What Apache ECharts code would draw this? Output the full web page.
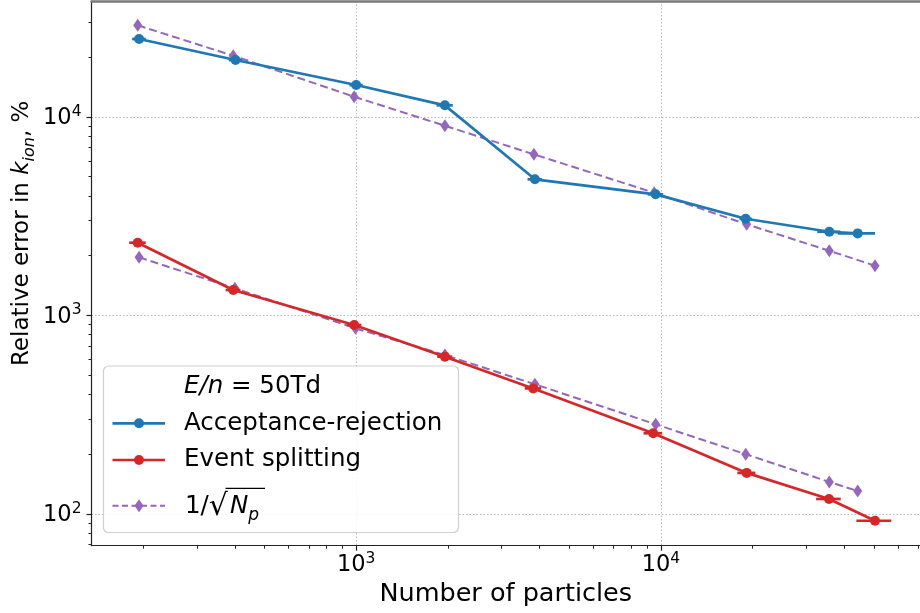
<!DOCTYPE html>
<html><head><meta charset="utf-8">
<script src="https://cdn.jsdelivr.net/npm/echarts@6/dist/echarts.min.js"></script>
<style>html,body{margin:0;padding:0;background:#fff}#c{width:920px;height:613px}</style>
</head><body><div id="c"></div>
<script>
// ---- data ----
const arX    = [194, 402, 1000, 1955, 3860, 9610, 18970, 35680, 44220];
const arY    = [24690, 19350, 14480, 11440, 4850, 4075, 3070, 2640, 2590];
const arXerr = [10, 20, 50, 120, 210, 560, 870, 3100, 6200];

const esX    = [192, 395, 985, 1955, 3810, 9430, 19110, 35600, 50390];
const esY    = [2325, 1343, 895, 620, 429, 255, 161, 119, 92.4];
const esXerr = [12, 22, 55, 110, 236, 660, 1300, 3300, 6600];

const refUpX = [192, 395, 985, 1955, 3830, 9500, 19110, 35680, 50390];
const refUpY = [28940, 20340, 12640, 9030, 6480, 4150, 2877, 2118, 1780];
const refLoX = [194, 400, 995, 1955, 3860, 9610, 18970, 35680, 44220];
const refLoY = [1962, 1369, 861, 632, 450, 283, 200, 145, 130.5];

const xMajorTicks = [1000, 10000];
const yMajorTicks = [100, 1000, 10000];
const xMinorTicks = [200,300,400,500,600,700,800,900,2000,3000,4000,5000,6000,7000,8000,9000,20000,30000,40000,50000,60000,70000];
const yMinorTicks = [70,80,90,200,300,400,500,600,700,800,900,2000,3000,4000,5000,6000,7000,8000,9000,20000,30000];

const seriesNames = ['Acceptance-rejection', 'Event splitting', '1/√N_p'];

// ---- chart ----
const BLUE = '#1f77b4', RED = '#d62728', PURPLE = '#9467bd';
const X_MIN = 135.4, X_MAX = 70800, Y_MIN = 69.2, Y_MAX = 38370;
const FONT = 'DejaVu Sans';
const zip = (a, b) => a.map((v, i) => [v, b[i]]);

function errSeries(xs, ys, errs, color, z) {
  return {
    type: 'custom', xAxisIndex: 0, yAxisIndex: 0, z: z, silent: true,
    data: xs.map((x, i) => [x, ys[i], errs[i]]),
    encode: { x: 0, y: 1 },
    renderItem: function (params, api) {
      const x = api.value(0), y = api.value(1), e = api.value(2);
      const p1 = api.coord([x - e, y]), p2 = api.coord([x + e, y]);
      return { type: 'line', shape: { x1: p1[0], y1: p1[1], x2: p2[0], y2: p2[1] },
               style: { stroke: color, lineWidth: 2.7 } };
    }
  };
}

const supRich = {
  b: { fontFamily: FONT, fontSize: 22.5, color: '#000', lineHeight: 26, verticalAlign: 'bottom' },
  sup: { fontFamily: FONT, fontSize: 15.5, color: '#000', lineHeight: 15, verticalAlign: 'top' }
};
const powFmt = v => '{b|10}{sup|' + Math.round(Math.log10(v)) + '}';

const gridRect = { left: 91.5, right: 0, top: 1, bottom: 67.3 };

const chart = echarts.init(document.getElementById('c'), null, { renderer: 'canvas' });
chart.setOption({
  animation: false,
  backgroundColor: '#fff',
  grid: [Object.assign({}, gridRect), Object.assign({}, gridRect)],
  xAxis: [
    { type: 'log', gridIndex: 0, position: 'bottom', min: X_MIN, max: X_MAX,
      name: 'Number of particles', nameLocation: 'middle', nameGap: 35.5, nameMoveOverlap: false,
      nameTextStyle: { fontFamily: FONT, fontSize: 25.5, color: '#000' },
      axisLine: { show: true, lineStyle: { color: '#222', width: 1.2 } },
      axisTick: { show: true, customValues: xMajorTicks, length: 5, lineStyle: { color: '#222', width: 1.2 } },
      axisLabel: { customValues: xMajorTicks, margin: 5, formatter: powFmt, rich: supRich },
      splitLine: { show: true, lineStyle: { color: '#b8b8b8', type: [1.5, 2], width: 1 } } },
    { type: 'log', gridIndex: 1, position: 'bottom', min: X_MIN, max: X_MAX,
      axisLine: { show: false },
      axisTick: { show: true, customValues: xMinorTicks, length: 3, lineStyle: { color: '#222', width: 1 } },
      axisLabel: { show: false }, splitLine: { show: false } },
    { type: 'log', gridIndex: 1, position: 'top', min: X_MIN, max: X_MAX,
      axisLine: { show: true, lineStyle: { color: '#7a7a7a', width: 2.5 } },
      axisTick: { show: false }, axisLabel: { show: false }, splitLine: { show: false } }
  ],
  yAxis: [
    { type: 'log', gridIndex: 0, position: 'left', min: Y_MIN, max: Y_MAX,
      name: '{a|Relative error in }{k|k}{s|ion}{a|, %}', nameLocation: 'middle', nameGap: 54, nameMoveOverlap: false,
      nameTextStyle: { padding: [0, 0, 0, 80],
        rich: {
          a: { fontFamily: FONT, fontSize: 23, color: '#000', lineHeight: 30, verticalAlign: 'middle' },
          k: { fontFamily: FONT, fontSize: 23, fontStyle: 'italic', color: '#000', lineHeight: 30, verticalAlign: 'middle' },
          s: { fontFamily: FONT, fontSize: 16, fontStyle: 'italic', color: '#000', lineHeight: 17, verticalAlign: 'bottom' }
        } },
      axisLine: { show: true, lineStyle: { color: '#222', width: 1.2 } },
      axisTick: { show: true, customValues: yMajorTicks, length: 5, lineStyle: { color: '#222', width: 1.2 } },
      axisLabel: { customValues: yMajorTicks, margin: 10, formatter: powFmt, rich: supRich },
      splitLine: { show: true, lineStyle: { color: '#b8b8b8', type: [1.5, 2], width: 1 } } },
    { type: 'log', gridIndex: 1, position: 'left', min: Y_MIN, max: Y_MAX,
      axisLine: { show: false },
      axisTick: { show: true, customValues: yMinorTicks, length: 3, lineStyle: { color: '#222', width: 1 } },
      axisLabel: { show: false }, splitLine: { show: false } }
  ],
  series: [
    { type: 'line', name: seriesNames[2], xAxisIndex: 0, yAxisIndex: 0, z: 2, data: zip(refUpX, refUpY),
      symbol: 'diamond', symbolSize: [9, 13], itemStyle: { color: PURPLE },
      lineStyle: { color: PURPLE, width: 2, type: [8, 4] } },
    { type: 'line', name: seriesNames[2], xAxisIndex: 0, yAxisIndex: 0, z: 2, data: zip(refLoX, refLoY),
      symbol: 'diamond', symbolSize: [9, 13], itemStyle: { color: PURPLE },
      lineStyle: { color: PURPLE, width: 2, type: [8, 4] } },
    errSeries(arX, arY, arXerr, BLUE, 3),
    { type: 'line', name: seriesNames[0], xAxisIndex: 0, yAxisIndex: 0, z: 4, data: zip(arX, arY),
      symbol: 'circle', symbolSize: 10, itemStyle: { color: BLUE },
      lineStyle: { color: BLUE, width: 2.7 } },
    errSeries(esX, esY, esXerr, RED, 3),
    { type: 'line', name: seriesNames[1], xAxisIndex: 0, yAxisIndex: 0, z: 4, data: zip(esX, esY),
      symbol: 'circle', symbolSize: 10, itemStyle: { color: RED },
      lineStyle: { color: RED, width: 2.7 } }
  ],
  graphic: [
    { type: 'rect', z: 100, shape: { x: 103.5, y: 366, width: 355, height: 166.5, r: 5 },
      style: { fill: 'rgba(255,255,255,0.85)', stroke: '#d0d0d0', lineWidth: 1.2 } },
    { type: 'text', z: 101, x: 184, y: 387,
      style: { text: '{i|E/n} = 50Td', fill: '#000', font: '24.5px "DejaVu Sans"', verticalAlign: 'middle',
        rich: { i: { fontFamily: FONT, fontSize: 24.5, fontStyle: 'italic' } } } },
    { type: 'line', z: 101, shape: { x1: 112.5, y1: 423.3, x2: 165, y2: 423.3 }, style: { stroke: BLUE, lineWidth: 2.7 } },
    { type: 'circle', z: 102, shape: { cx: 139, cy: 423.3, r: 5 }, style: { fill: BLUE } },
    { type: 'text', z: 101, x: 184, y: 423.5,
      style: { text: seriesNames[0], fill: '#000', font: '24.5px "DejaVu Sans"', verticalAlign: 'middle' } },
    { type: 'line', z: 101, shape: { x1: 112.5, y1: 460, x2: 165, y2: 460 }, style: { stroke: RED, lineWidth: 2.7 } },
    { type: 'circle', z: 102, shape: { cx: 139, cy: 460, r: 5 }, style: { fill: RED } },
    { type: 'text', z: 101, x: 184, y: 460,
      style: { text: seriesNames[1], fill: '#000', font: '24.5px "DejaVu Sans"', verticalAlign: 'middle' } },
    { type: 'line', z: 101, shape: { x1: 112.5, y1: 505.7, x2: 165, y2: 505.7 },
      style: { stroke: PURPLE, lineWidth: 2, lineDash: [6, 3.5] } },
    { type: 'polygon', z: 102, shape: { points: [[139, 499.2], [143.5, 505.7], [139, 512.2], [134.5, 505.7]] }, style: { fill: PURPLE } },
    { type: 'text', z: 101, x: 185, y: 507,
      style: { text: '{a|1/}{r|√}{n|N}{p|p}', fill: '#000', verticalAlign: 'middle',
        rich: {
          a: { fontFamily: FONT, fontSize: 24.5, lineHeight: 34, verticalAlign: 'middle' },
          r: { fontFamily: FONT, fontSize: 30, lineHeight: 34, verticalAlign: 'middle' },
          n: { fontFamily: FONT, fontSize: 24.5, fontStyle: 'italic', lineHeight: 34, verticalAlign: 'middle', padding: [0, 0, 0, 2] },
          p: { fontFamily: FONT, fontSize: 17, fontStyle: 'italic', lineHeight: 20, verticalAlign: 'bottom' }
        } } },
    { type: 'line', z: 101, shape: { x1: 225.5, y1: 488.3, x2: 265, y2: 488.3 }, style: { stroke: '#000', lineWidth: 1.3 } }
  ]
});
</script>
</body></html>
